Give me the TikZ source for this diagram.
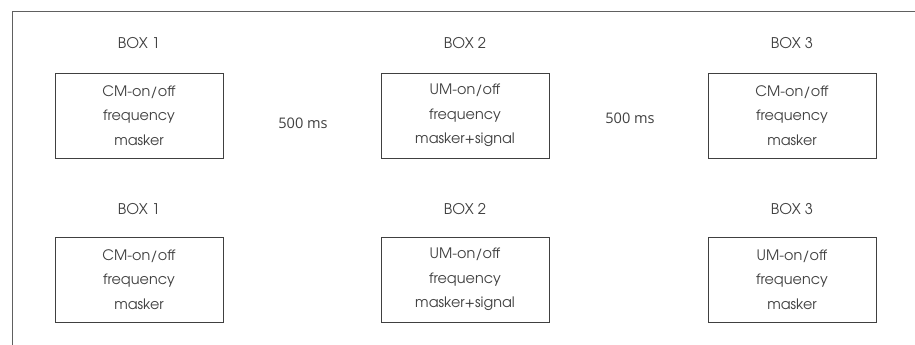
\documentclass[tikz,border=0pt]{standalone}
\usepackage{fontspec}
\setmainfont{TeX Gyre Adventor}
\newfontfamily\gapfont{Open Sans}
\definecolor{txtgray}{HTML}{404040}
\definecolor{framegray}{HTML}{606060}
\tikzset{
	maskbox/.style={draw=txtgray, line width=0.5pt, minimum width=3.36cm, minimum height=1.7cm, align=center, text=txtgray, font=\fontsize{8.2}{13.9}\selectfont},
	boxlabel/.style={text=txtgray, font=\fontsize{8.4}{10}\selectfont},
	gaplabel/.style={text=txtgray, font=\gapfont\fontsize{8.3}{10}\selectfont},
}
\begin{document}
\begin{tikzpicture}
	\useasboundingbox (0,0) rectangle (18.3,6.9);
	\draw[framegray, line width=0.5pt] (0.24,0) -- (0.24,6.68) -- (18.3,6.68);
	% first row
	\node[boxlabel] (labA) at (2.78,6.04) {BOX 1};
	\node[boxlabel] (labB) at (9.30,6.04) {BOX 2};
	\node[boxlabel] (labC) at (15.84,6.04) {BOX 3};
	\node[maskbox] (boxA) at (2.78,4.59) {CM-on/off\\frequency\\masker};
	\node[maskbox] (boxB) at (9.30,4.59) {UM-on/off\\frequency\\masker+signal};
	\node[maskbox] (boxC) at (15.84,4.59) {CM-on/off\\frequency\\masker};
	\node[gaplabel] (gapA) at (6.06,4.44) {500 ms};
	\node[gaplabel] (gapB) at (12.6,4.54) {500 ms};
	% second row
	\node[boxlabel] (labD) at (2.78,2.72) {BOX 1};
	\node[boxlabel] (labE) at (9.30,2.72) {BOX 2};
	\node[boxlabel] (labF) at (15.84,2.72) {BOX 3};
	\node[maskbox] (boxD) at (2.78,1.31) {CM-on/off\\frequency\\masker};
	\node[maskbox] (boxE) at (9.30,1.31) {UM-on/off\\frequency\\masker+signal};
	\node[maskbox] (boxF) at (15.84,1.31) {UM-on/off\\frequency\\masker};
\end{tikzpicture}
\end{document}
